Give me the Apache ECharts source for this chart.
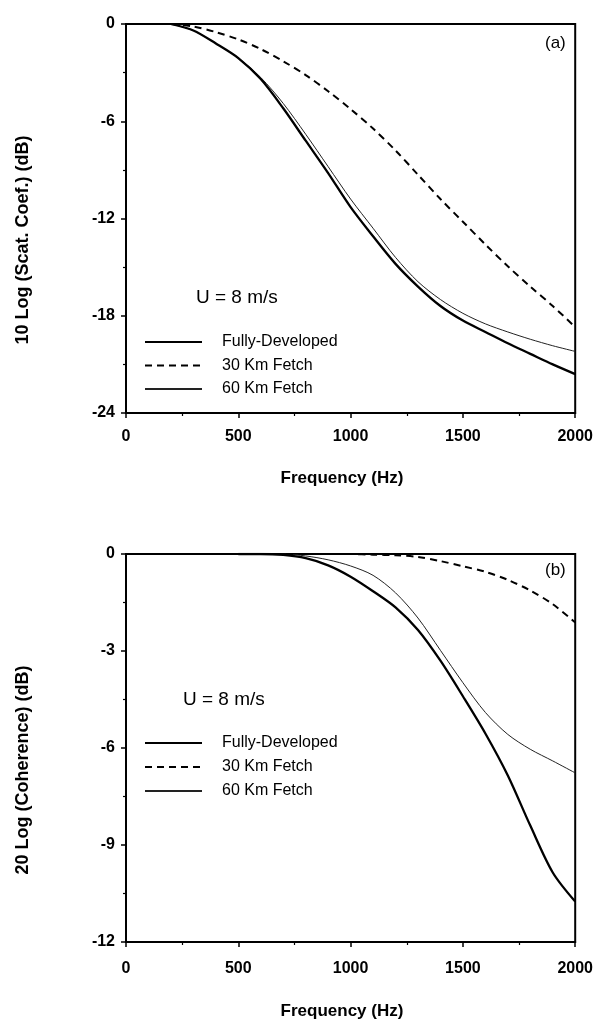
<!DOCTYPE html>
<html>
<head>
<meta charset="utf-8">
<script src="https://cdn.jsdelivr.net/npm/echarts@6/dist/echarts.min.js"></script>
<style>
html,body{margin:0;padding:0;background:#fff;}
#chart{width:596px;height:1025px;}
</style>
</head>
<body>
<div id="chart"></div>
<script>
// ---- Data ----
const xTicks = [0, 500, 1000, 1500, 2000];
const yTicksA = [0, -6, -12, -18, -24];
const yTicksB = [0, -3, -6, -9, -12];
const seriesNames = ['Fully-Developed', '30 Km Fetch', '60 Km Fetch'];

// Panel (a): 10 Log (Scat. Coef.) (dB)
const freqA   = [200, 300, 400, 500, 600, 700, 800, 900, 1000, 1100, 1200, 1300, 1400, 1500, 1600, 1700, 1800, 1900, 2000];
const fullyA  = [0, -0.4, -1.2, -2.1, -3.4, -5.2, -7.2, -9.2, -11.3, -13.1, -14.8, -16.2, -17.4, -18.3, -19.0, -19.7, -20.35, -21.0, -21.6];
const fetch30A = [0, -0.15, -0.5, -0.95, -1.55, -2.3, -3.15, -4.15, -5.25, -6.45, -7.8, -9.3, -10.8, -12.2, -13.6, -14.95, -16.2, -17.4, -18.7];
const fetch60A = [0, -0.4, -1.2, -2.1, -3.3, -4.9, -6.8, -8.8, -10.8, -12.6, -14.4, -15.9, -17.0, -17.85, -18.5, -19.0, -19.45, -19.85, -20.2];

// Panel (b): 20 Log (Coherence) (dB)
const freqB   = [500, 600, 700, 800, 900, 1000, 1100, 1200, 1300, 1400, 1500, 1600, 1700, 1800, 1900, 2000];
const fullyB  = [0, 0, -0.03, -0.13, -0.35, -0.7, -1.15, -1.65, -2.35, -3.3, -4.4, -5.55, -6.85, -8.4, -9.85, -10.75];
const fetch30B = [0, 0, 0, 0, 0, 0, -0.02, -0.04, -0.09, -0.22, -0.38, -0.55, -0.8, -1.13, -1.55, -2.12];
const fetch60B = [0, 0, 0, -0.06, -0.18, -0.37, -0.66, -1.2, -1.98, -2.98, -3.98, -4.9, -5.58, -6.04, -6.4, -6.77];

const pairs = (xs, ys) => xs.map((x, i) => [x, ys[i]]);

// ---- Styles ----
const FONT = '"Liberation Sans", Arial, Helvetica, sans-serif';
const lineStyles = [
  { color: '#000', width: 2.3, type: 'solid' },
  { color: '#000', width: 2, type: [7, 5] },
  { color: '#222', width: 1, type: 'solid' }
];

function xAxisDef(gridIndex, margin) {
  return {
    type: 'value', gridIndex, min: 0, max: 2000, interval: 500,
    axisLine: { show: true, onZero: false, lineStyle: { color: '#000', width: 2 } },
    axisTick: { show: true, length: 5, lineStyle: { color: '#000', width: 1.5 } },
    minorTick: { show: true, splitNumber: 2, length: 3, lineStyle: { color: '#000', width: 1.2 } },
    splitLine: { show: false },
    axisLabel: { margin, color: '#000', fontFamily: FONT, fontWeight: 'bold', fontSize: 16,
      formatter: v => (xTicks.indexOf(v) >= 0 ? String(v) : '') }
  };
}
function yAxisDef(gridIndex, ticks) {
  const step = ticks[0] - ticks[1];
  return {
    type: 'value', gridIndex, min: ticks[ticks.length - 1], max: ticks[0], interval: step,
    axisLine: { show: true, onZero: false, lineStyle: { color: '#000', width: 2 } },
    axisTick: { show: true, length: 5, lineStyle: { color: '#000', width: 1.5 } },
    minorTick: { show: true, splitNumber: 2, length: 3, lineStyle: { color: '#000', width: 1.2 } },
    splitLine: { show: false },
    axisLabel: { margin: 11, color: '#000', fontFamily: FONT, fontWeight: 'bold', fontSize: 16,
      formatter: v => (ticks.indexOf(v) >= 0 ? String(v) : '') }
  };
}

function makeSeries(name, idx, xi, data) {
  return {
    name, type: 'line', xAxisIndex: xi, yAxisIndex: xi, data,
    showSymbol: false, symbol: 'none', smooth: 0.3, clip: true,
    lineStyle: lineStyles[idx], itemStyle: { color: lineStyles[idx].color },
    z: 3 - idx
  };
}

function legendDef(top, gap) {
  return {
    orient: 'vertical', left: 139, top, itemWidth: 57, itemHeight: 14, itemGap: gap,
    selectedMode: false,
    itemStyle: { opacity: 0 },
    data: seriesNames,
    textStyle: { color: '#000', fontFamily: FONT, fontSize: 16, padding: [0, 0, 0, 15] }
  };
}

const option = {
  backgroundColor: '#fff',
  animation: false,
  grid: [
    { left: 126, top: 24, width: 451, height: 389, show: true, borderColor: '#000', borderWidth: 2, backgroundColor: 'transparent' },
    { left: 126, top: 554, width: 451, height: 388, show: true, borderColor: '#000', borderWidth: 2, backgroundColor: 'transparent' }
  ],
  xAxis: [xAxisDef(0, 16), xAxisDef(1, 19)],
  yAxis: [yAxisDef(0, yTicksA), yAxisDef(1, yTicksB)],
  legend: [legendDef(329, 7.5), legendDef(730, 8)],
  series: [
    makeSeries(seriesNames[0], 0, 0, pairs(freqA, fullyA)),
    makeSeries(seriesNames[1], 1, 0, pairs(freqA, fetch30A)),
    makeSeries(seriesNames[2], 2, 0, pairs(freqA, fetch60A)),
    makeSeries(seriesNames[0], 0, 1, pairs(freqB, fullyB)),
    makeSeries(seriesNames[1], 1, 1, pairs(freqB, fetch30B)),
    makeSeries(seriesNames[2], 2, 1, pairs(freqB, fetch60B))
  ],
  graphic: [
    { type: 'text', x: 196, y: 298, style: { text: 'U = 8 m/s', fill: '#000', font: '19px ' + FONT, align: 'left', verticalAlign: 'middle' } },
    { type: 'text', x: 183, y: 700, style: { text: 'U = 8 m/s', fill: '#000', font: '19px ' + FONT, align: 'left', verticalAlign: 'middle' } },
    { type: 'text', x: 545, y: 43, style: { text: '(a)', fill: '#000', font: '17px ' + FONT, align: 'left', verticalAlign: 'middle' } },
    { type: 'text', x: 545, y: 570, style: { text: '(b)', fill: '#000', font: '17px ' + FONT, align: 'left', verticalAlign: 'middle' } },
    { type: 'text', x: 23, y: 240, rotation: Math.PI / 2,
      style: { text: '10 Log (Scat. Coef.) (dB)', fill: '#000', font: 'bold 18px ' + FONT, align: 'center', verticalAlign: 'middle' } },
    { type: 'text', x: 23, y: 770, rotation: Math.PI / 2,
      style: { text: '20 Log (Coherence) (dB)', fill: '#000', font: 'bold 18px ' + FONT, align: 'center', verticalAlign: 'middle' } },
    { type: 'text', x: 342, y: 478,
      style: { text: 'Frequency (Hz)', fill: '#000', font: 'bold 17px ' + FONT, align: 'center', verticalAlign: 'middle' } },
    { type: 'text', x: 342, y: 1011,
      style: { text: 'Frequency (Hz)', fill: '#000', font: 'bold 17px ' + FONT, align: 'center', verticalAlign: 'middle' } }
  ]
};

const chart = echarts.init(document.getElementById('chart'), null, { renderer: 'canvas' });
chart.setOption(option);
</script>
</body>
</html>
